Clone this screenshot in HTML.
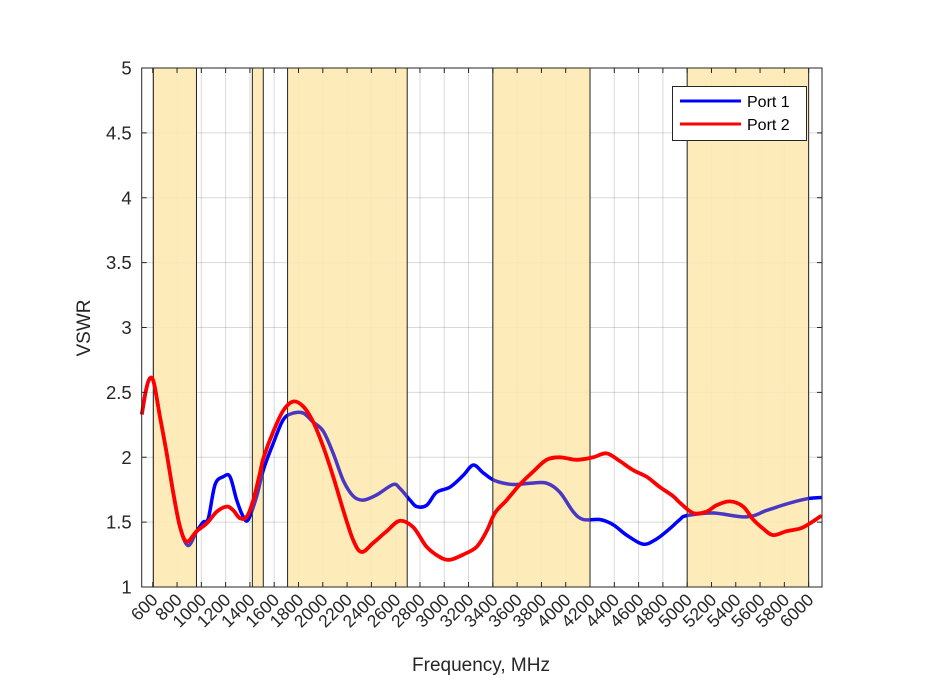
<!DOCTYPE html>
<html><head><meta charset="utf-8"><style>
html,body{margin:0;padding:0;background:#fff;}
svg{display:block;font-family:"Liberation Sans",Arial,sans-serif;}
</style></head><body>
<svg id="chart" width="933" height="700" viewBox="0 0 933 700" xmlns="http://www.w3.org/2000/svg">
<g id="bands"></g>
<g id="grid"></g>
<g id="series"></g>
<g id="axes"></g>
<text x="0" y="0" transform="translate(90,328) rotate(-90)" text-anchor="middle" font-size="19" fill="#262626">VSWR</text>
<text x="481" y="671" text-anchor="middle" font-size="19" fill="#262626">Frequency, MHz</text>
<g>
<rect x="672.5" y="86.5" width="134" height="54" fill="#fff" stroke="#262626" stroke-width="1"/>
<line x1="680" y1="101" x2="741" y2="101" stroke="#0000ff" stroke-width="3"/>
<text x="747" y="107" font-size="16" fill="#000">Port 1</text>
<line x1="680" y1="124" x2="741" y2="124" stroke="#ff0000" stroke-width="3"/>
<text x="747" y="130" font-size="16" fill="#000">Port 2</text>
</g>
</svg>
<script>
const xTicks=[600,800,1000,1200,1400,1600,1800,2000,2200,2400,2600,2800,3000,3200,3400,3600,3800,4000,4200,4400,4600,4800,5000,5200,5400,5600,5800,6000];
const yTicks=[1,1.5,2,2.5,3,3.5,4,4.5,5];
const yTickLabels=["1","1.5","2","2.5","3","3.5","4","4.5","5"];
const bandStarts=[605,1420,1710,3400,5000];
const bandEnds=[960,1510,2695,4200,6000];
const port1Freq=[510,545,578,610,660,715,770,825,890,962,1016,1058,1113,1181,1236,1291,1346,1387,1456,1510,1593,1675,1757,1840,1922,2004,2086,2169,2251,2333,2443,2580,2635,2718,2773,2855,2937,3047,3156,3239,3321,3417,3568,3705,3843,3952,4062,4144,4281,4391,4501,4638,4748,4858,4940,4995,5214,5489,5654,5818,5983,6106];
const port1Vswr=[2.33,2.52,2.61,2.57,2.31,2.03,1.72,1.46,1.32,1.43,1.50,1.53,1.79,1.85,1.85,1.67,1.54,1.52,1.70,1.90,2.11,2.29,2.34,2.34,2.27,2.20,2.03,1.82,1.70,1.67,1.71,1.79,1.76,1.67,1.62,1.63,1.73,1.77,1.86,1.94,1.88,1.82,1.79,1.80,1.80,1.73,1.58,1.52,1.52,1.48,1.40,1.33,1.37,1.45,1.52,1.55,1.57,1.54,1.59,1.64,1.68,1.69];
const port2Freq=[510,545,578,610,660,715,770,825,880,962,1044,1127,1209,1263,1318,1373,1428,1483,1510,1593,1675,1757,1840,1922,2004,2086,2169,2251,2320,2415,2526,2635,2745,2855,2965,3047,3156,3267,3349,3417,3514,3623,3733,3843,3952,4090,4226,4336,4446,4556,4666,4775,4885,4940,5049,5159,5242,5351,5461,5543,5625,5708,5818,5928,6010,6106];
const port2Vswr=[2.33,2.52,2.61,2.57,2.31,2.03,1.72,1.46,1.35,1.43,1.49,1.58,1.62,1.59,1.53,1.54,1.67,1.88,1.99,2.20,2.36,2.43,2.39,2.27,2.08,1.85,1.59,1.36,1.27,1.34,1.43,1.51,1.46,1.31,1.23,1.21,1.25,1.31,1.43,1.57,1.67,1.79,1.89,1.98,2.00,1.98,2.00,2.03,1.97,1.90,1.85,1.77,1.70,1.65,1.57,1.58,1.63,1.66,1.62,1.52,1.45,1.40,1.43,1.45,1.49,1.55];

const X0=141.7,X1=822,Y0=68,Y1=587,FMIN=509,FMAX=6110,VMIN=1,VMAX=5;
function xs(f){return X0+(f-FMIN)/(FMAX-FMIN)*(X1-X0);}
function ys(v){return Y1-(v-VMIN)/(VMAX-VMIN)*(Y1-Y0);}
const NS='http://www.w3.org/2000/svg';
function mk(tag,attrs,parent){const e=document.createElementNS(NS,tag);for(const k in attrs)e.setAttribute(k,attrs[k]);parent.appendChild(e);return e;}
const svg=document.getElementById('chart');
const bands=document.getElementById('bands'),grid=document.getElementById('grid'),series=document.getElementById('series'),axes=document.getElementById('axes');

const pa=mk('rect',{x:X0,y:Y0,width:X1-X0,height:Y1-Y0,fill:'#fff'},bands);



xTicks.forEach(t=>{const l=mk('line',{x1:xs(t),x2:xs(t),y1:Y0,y2:Y1,stroke:'#000','stroke-opacity':0.15,'stroke-width':1},grid);

});
yTicks.forEach(t=>{const l=mk('line',{x1:X0,x2:X1,y1:ys(t),y2:ys(t),stroke:'#000','stroke-opacity':0.15,'stroke-width':1},grid);

});

function pathD(fa,va){
 const p=fa.map((f,i)=>[xs(f),ys(va[i])]);
 let d='M'+p[0][0].toFixed(1)+','+p[0][1].toFixed(1);
 for(let i=0;i<p.length-1;i++){
  const p0=p[Math.max(0,i-1)],p1=p[i],p2=p[i+1],p3=p[Math.min(p.length-1,i+2)];
  const c1=[p1[0]+(p2[0]-p0[0])/6,p1[1]+(p2[1]-p0[1])/6];
  const c2=[p2[0]-(p3[0]-p1[0])/6,p2[1]-(p3[1]-p1[1])/6];
  d+=' C'+c1.map(v=>v.toFixed(1)).join(',')+' '+c2.map(v=>v.toFixed(1)).join(',')+' '+p2[0].toFixed(1)+','+p2[1].toFixed(1);
 }
 return d;
}
const b=mk('path',{d:pathD(port1Freq,port1Vswr),fill:'none',stroke:'#0000ff','stroke-width':3.5,'stroke-linejoin':'round'},series);


const defs=mk('defs',{},svg);
const cp=mk('clipPath',{id:'bandclip'},defs);
bandStarts.forEach((s,i)=>{
 mk('rect',{x:xs(s),y:Y0,width:xs(bandEnds[i])-xs(s),height:Y1-Y0},cp);
 const r=mk('rect',{x:xs(s),y:Y0,width:xs(bandEnds[i])-xs(s),height:Y1-Y0,fill:'#fde9b2','fill-opacity':0.9,stroke:'#222','stroke-width':1},series);
 
 
});
const b2=mk('path',{d:pathD(port1Freq,port1Vswr),fill:'none',stroke:'#4a38c2','stroke-width':3.5,'stroke-linejoin':'round','clip-path':'url(#bandclip)'},series);


const r2=mk('path',{d:pathD(port2Freq,port2Vswr),fill:'none',stroke:'#ff0000','stroke-width':3.8,'stroke-linejoin':'round'},series);



const box=mk('rect',{x:X0,y:Y0,width:X1-X0,height:Y1-Y0,fill:'none',stroke:'#262626','stroke-width':1},axes);


xTicks.forEach(t=>{
 const x=xs(t);
 mk('line',{x1:x,x2:x,y1:Y1,y2:Y1-5,stroke:'#262626'},axes);
 mk('line',{x1:x,x2:x,y1:Y0,y2:Y0+5,stroke:'#262626'},axes);
 const tx=mk('text',{transform:`translate(${x+6},${Y1+14}) rotate(-45)`,'text-anchor':'end','font-size':17.5,fill:'#262626'},axes);
 tx.textContent=String(t);
 
 
});
yTicks.forEach((t,i)=>{
 const y=ys(t);
 mk('line',{x1:X0,x2:X0+5,y1:y,y2:y,stroke:'#262626'},axes);
 mk('line',{x1:X1,x2:X1-5,y1:y,y2:y,stroke:'#262626'},axes);
 const tx=mk('text',{x:X0-10,y:y+6.5,'text-anchor':'end','font-size':18.5,fill:'#262626'},axes);
 tx.textContent=yTickLabels[i];
 
 
});
</script>
</body></html>
